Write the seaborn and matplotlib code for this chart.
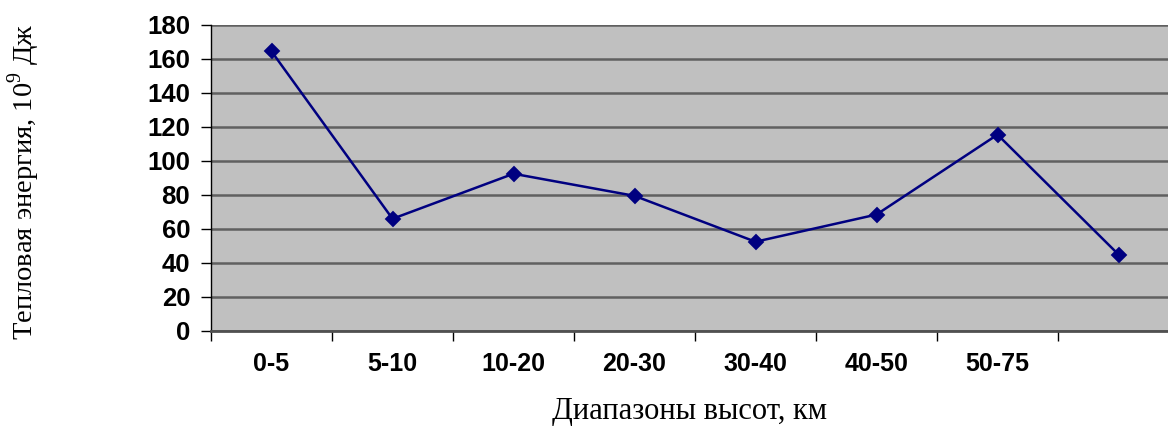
import numpy as np
import matplotlib
matplotlib.use("Agg")
from matplotlib import pyplot as plt
from matplotlib.ticker import FixedLocator
import seaborn as sns

# data
ranges = ["0-5", "5-10", "10-20", "20-30", "30-40", "40-50", "50-75", ""]
energy = [164.5, 66.0, 92.5, 79.5, 52.5, 68.5, 115.5, 45.0]
yticks = [0, 20, 40, 60, 80, 100, 120, 140, 160, 180]

sns.set_theme(style="white")
plt.rcParams["font.family"] = ["Liberation Sans", "DejaVu Sans"]
plt.rcParams["mathtext.fontset"] = "custom"
plt.rcParams["mathtext.rm"] = "Liberation Serif"
plt.rcParams["text.color"] = "black"
plt.rcParams["xtick.color"] = "black"
plt.rcParams["ytick.color"] = "black"

fig = plt.figure(figsize=(11.68, 4.28), dpi=100)
ax = fig.add_axes([211 / 1168, 97 / 428, 968 / 1168, 306 / 428])
ax.set_facecolor("#c0c0c0")

sns.pointplot(
    x=ranges,
    y=energy,
    order=ranges,
    color="#000080",
    markers="D",
    markersize=7,
    linewidth=1.8,
    errorbar=None,
    ax=ax,
    zorder=3,
)

ax.set_xlim(-0.5, len(ranges) - 0.5)
ax.set_ylim(0, 180)
ax.set_yticks(yticks)
ax.yaxis.grid(True, color="#606060", linewidth=1.8)
ax.set_axisbelow(True)

# labels in the middle, tick marks on the category borders
ax.set_xticks(range(len(ranges)))
ax.set_xticklabels(ranges, fontsize=18, fontweight="bold")
ax.xaxis.set_minor_locator(FixedLocator(np.arange(-0.5, len(ranges), 1)))
ax.tick_params(axis="x", which="major", length=0, pad=15)
ax.tick_params(axis="x", which="minor", length=7, width=1, color="black", bottom=True)
ax.tick_params(axis="y", length=7, width=1, color="black", left=True, pad=8)
for lab in ax.get_yticklabels():
    lab.set_fontsize(18.5)
    lab.set_fontweight("bold")

for side in ["top", "right"]:
    ax.spines[side].set_visible(False)
ax.spines["left"].set_color("black")
ax.spines["left"].set_linewidth(1)
ax.spines["bottom"].set_color("#505050")
ax.spines["bottom"].set_linewidth(2)

ax.set_xlabel("")
ax.set_ylabel("")
fig.text(690 / 1168, 1 - 412 / 428, "Диапазоны высот, км",
         family=["Liberation Serif", "DejaVu Serif"], fontsize=22,
         ha="center", va="center")
fig.text(24 / 1168, 1 - 182 / 428, "Тепловая энергия, $10^9$ Дж",
         family=["Liberation Serif", "DejaVu Serif"], fontsize=20.5,
         rotation=90, ha="center", va="center")

fig.savefig("out.png", dpi=100)
